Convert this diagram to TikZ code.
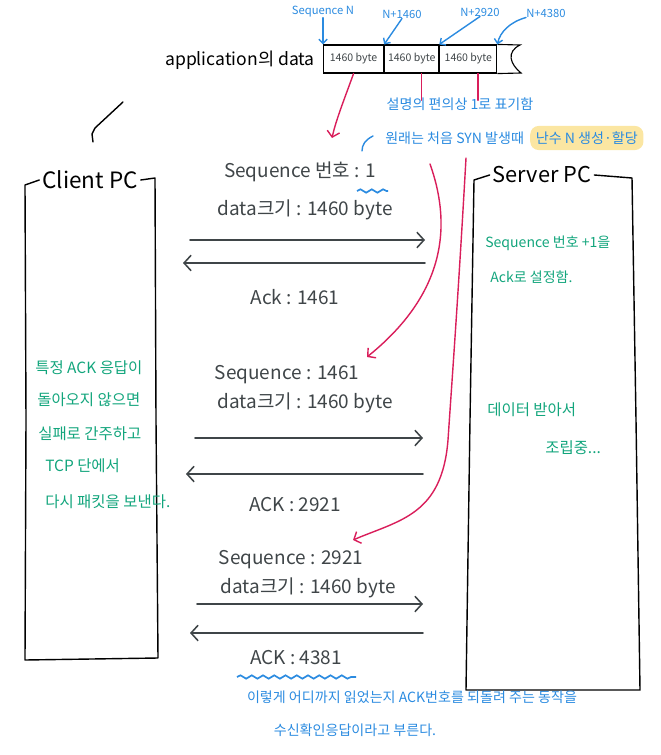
\documentclass[tikz,border=0pt]{standalone}
\usepackage{fontspec}
\setmainfont{Noto Sans CJK KR}
\usetikzlibrary{arrows.meta,positioning,decorations.pathmorphing}
\definecolor{inkgray}{HTML}{3F4548}
\definecolor{inkblue}{HTML}{2B8BE0}
\definecolor{inkgreen}{HTML}{12A57C}
\definecolor{inkpink}{HTML}{D91E5B}
\definecolor{hilite}{HTML}{FBE6A2}
\begin{document}
\begin{tikzpicture}[x=0.025cm,y=-0.025cm]
  \tikzset{ txt/.style={inkgray,inner sep=0pt,font=\fontsize{13.5}{15}\selectfont},
    note/.style={inkgreen,inner sep=0pt,anchor=west,font=\fontsize{11}{13}\selectfont},
    memo/.style={inkblue,inner sep=0pt,font=\fontsize{10}{12}\selectfont},
    tag/.style={inkblue,inner sep=0pt,font=\fontsize{8}{10}\selectfont},
    cell/.style={draw=black,thick,minimum height=0.7cm,inner sep=0pt,text=inkgray,font=\fontsize{7.5}{9}\selectfont},
    pc/.style={black,line width=1pt,line join=round,line cap=round},
    msg/.style={inkgray,line width=1.1pt,line cap=round,-{Straight Barb[length=5pt,width=11pt]}},
    pinkline/.style={inkpink,line width=1pt,line cap=round},
    blueline/.style={inkblue,line width=1pt,line cap=round},
    squiggle/.style={inkblue,line width=1.2pt,decorate,decoration={snake,amplitude=1.2pt,segment length=8pt}},
  }
  \useasboundingbox (0,0) rectangle (660,755);

  % application data
  \node[black,inner sep=0pt,font=\fontsize{12.5}{14}\selectfont] (app) at (240,60) {application의 data};
  \node[cell,minimum width=1.5cm,anchor=west] (cellA) at (323,59) {1460 byte};
  \node[cell,minimum width=1.35cm,right=0pt of cellA] (cellB) {1460 byte};
  \node[cell,minimum width=1.425cm,right=0pt of cellB] (cellC) {1460 byte};
  \draw[black,thick] (cellC.north east) -- (520,45) .. controls (506,52) and (510,64) .. (521,73) -- (cellC.south east);

  \node[tag] (seqN) at (323,12) {Sequence N};
  \node[tag] (n1460) at (402,14) {N+1460};
  \node[tag] (n2920) at (480,12) {N+2920};
  \node[tag] (n4380) at (546,13) {N+4380};
  \draw[blueline,-{Straight Barb[length=3pt,width=6pt]}] (seqN.south) -- (cellA.north west);
  \draw[blueline,-{Straight Barb[length=3pt,width=6pt]}] (n1460.south) -- (cellA.north east);
  \draw[blueline,-{Straight Barb[length=3pt,width=6pt]}] (n2920.south) -- (cellB.north east);
  \draw[blueline,-{Straight Barb[length=3pt,width=6pt]}] (n4380.south west) .. controls (510,22) and (500,32) .. (cellC.north east);

  \node[memo] (memo1) at (460,104) {설명의 편의상 1로 표기함};
  \node[memo,anchor=west] (memo2) at (385,138) {원래는 처음 SYN 발생때};
  \node[memo,fill=hilite,rounded corners=6pt,inner xsep=4pt,inner ysep=4pt,right=4pt of memo2] (rand) {난수 N 생성·할당};

  \draw[pc] (123,102) -- (95,128) -- (92,134) -- (93,142);

  % client / server
  \node[black,inner sep=0pt,font=\fontsize{16}{18}\selectfont] (client) at (90,180) {Client PC};
  \draw[pc] ([xshift=-2pt]client.west) -- (25,185) -- (26,420) -- (25,660) -- (158,658) -- (156,420) -- (155,178) -- ([xshift=2pt]client.east);
  \node[black,inner sep=0pt,font=\fontsize{15.5}{18}\selectfont] (server) at (542,175) {Server PC};
  \draw[pc] ([xshift=-2pt]server.west) -- (474,180) -- (470,420) -- (466,690) -- (640,690) -- (636,420) -- (632,178) -- ([xshift=2pt]server.east);

  % first segment
  \node[txt] (seqA) at (300,172) {Sequence 번호 : 1};
  \node[txt] (dataA) at (305,210) {data크기 : 1460 byte};
  \coordinate (reqA) at (190,240); \coordinate (srvA) at (425,240);
  \draw[msg] (reqA) -- (srvA);
  \coordinate (ackAs) at (425,263); \coordinate (ackAe) at (183,263);
  \draw[msg] (ackAs) -- (ackAe);
  \node[txt] (ackA) at (295,297) {Ack : 1461};

  % second segment
  \node[txt] (seqB) at (287,375) {Sequence : 1461};
  \node[txt] (dataB) at (305,403) {data크기 : 1460 byte};
  \coordinate (reqB) at (195,438); \coordinate (srvB) at (423,438);
  \draw[msg] (reqB) -- (srvB);
  \coordinate (ackBs) at (423,474); \coordinate (ackBe) at (186,474);
  \draw[msg] (ackBs) -- (ackBe);
  \node[txt] (ackB) at (295,505) {ACK : 2921};

  % third segment
  \node[txt] (seqC) at (291,560) {Sequence : 2921};
  \node[txt] (dataC) at (308,588) {data크기 : 1460 byte};
  \coordinate (reqC) at (197,604); \coordinate (srvC) at (423,604);
  \draw[msg] (reqC) -- (srvC);
  \coordinate (ackCs) at (423,633); \coordinate (ackCe) at (190,633);
  \draw[msg] (ackCs) -- (ackCe);
  \node[txt] (ackC) at (296,658) {ACK : 4381};

  % underlines
  \draw[squiggle] (357,191) -- (388,191);
  \draw[blueline] (373,136) .. controls (365,140) and (362,145) .. (362,151);
  \draw[squiggle] (237,677) -- (356,677);

  % pink pointers
  \draw[pinkline,-{Straight Barb[length=4pt,width=9pt]}] (cellA.south) .. controls (344,100) and (336,120) .. (332,138);
  \draw[pinkline] ([xshift=7pt]cellB.south) -- ([xshift=7pt,yshift=-19pt]cellB.south);
  \draw[pinkline] ([xshift=7pt]cellC.south) -- ([xshift=7pt,yshift=-19pt]cellC.south);
  \draw[pinkline,-{Straight Barb[length=4pt,width=9pt]}] (430,164) .. controls (450,220) and (450,290) .. (367,357);
  \draw[pinkline,-{Straight Barb[length=4pt,width=9pt]}] (466,158) .. controls (458,300) and (452,380) .. (448,440) .. controls (442,515) and (400,520) .. (353,540);

  % green notes
  \node[note] (fail1) at (35,368) {특정 ACK 응답이};
  \node[note] (fail2) at (37,400) {돌아오지 않으면};
  \node[note] (fail3) at (38,434) {실패로 간주하고};
  \node[note] (fail4) at (45,466) {TCP 단에서};
  \node[note] (fail5) at (45,502) {다시 패킷을 보낸다.};
  \node[note,font=\fontsize{10}{12}\selectfont] (srv1) at (485,243) {Sequence 번호 +1을};
  \node[note,font=\fontsize{10}{12}\selectfont] (srv2) at (490,277) {Ack로 설정함.};
  \node[note] (srv3) at (487,410) {데이터 받아서};
  \node[note] (srv4) at (545,448) {조립중...};

  % bottom remark
  \node[memo] (remark1) at (412,697) {이렇게 어디까지 읽었는지 ACK번호를 되돌려 주는 동작을};
  \node[memo] (remark2) at (355,730) {수신확인응답이라고 부른다.};
\end{tikzpicture}
\end{document}
